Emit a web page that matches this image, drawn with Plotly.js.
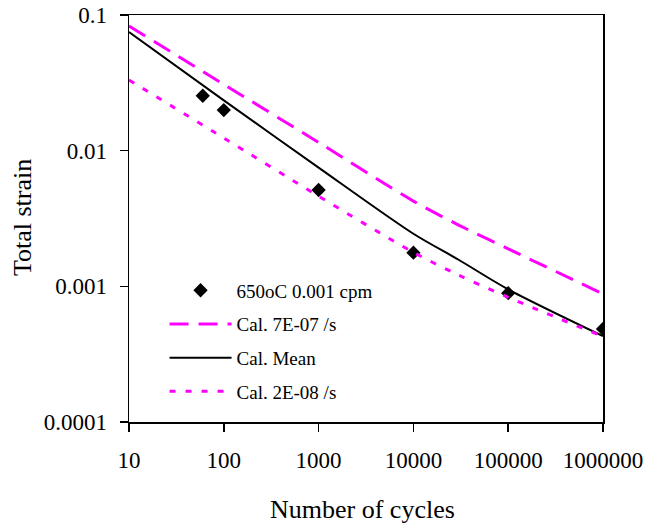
<!DOCTYPE html>
<html>
<head>
<meta charset="utf-8">
<script src="https://cdn.plot.ly/plotly-3.0.1.min.js"></script>
<style>html,body{margin:0;padding:0;background:#fff;}</style>
</head>
<body>
<div id="chart" style="width:647px;height:525px;"></div>
<script>
// Measured data (650oC, 0.001 cpm)
const expCycles = [60, 100, 1000, 10000, 100000, 1000000];
const expStrain = [0.0254, 0.0199, 0.00513, 0.00177, 0.00089, 0.000485];

// Calculated curves
const calCycles = [10, 100, 1000, 10000, 30000, 100000, 1000000];
const cal7E07 = [0.083, 0.0308, 0.0115, 0.00425, 0.00283, 0.00189, 0.00088];
const calMean = [0.075, 0.0235, 0.0075, 0.00244, 0.00157, 0.00095, 0.00043];
const cal2E08 = [0.0332, 0.0124, 0.00462, 0.00178, 0.00121, 0.00083, 0.000426];

const seriesNames = ["650oC 0.001 cpm", "Cal. 7E-07 /s", "Cal. Mean", "Cal. 2E-08 /s"];

const xTickVals = [10, 100, 1000, 10000, 100000, 1000000];
const xTickText = ["10", "100", "1000", "10000", "100000", "1000000"];
const yTickVals = [0.0001, 0.001, 0.01, 0.1];
const yTickText = ["0.0001", "0.001", "0.01", "0.1"];

const xTitle = "Number of cycles";
const yTitle = "Total strain";

const MAG = "#FF00FF";
const FONT = "Liberation Serif, Times New Roman, serif";

const traces = [
  {x: expCycles, y: expStrain, name: seriesNames[0], mode: "markers", type: "scatter",
   legendgroup: "a", marker: {symbol: "diamond", size: 11, color: "#000"}},
  {x: calCycles, y: cal7E07, name: seriesNames[1], mode: "lines", type: "scatter",
   legendgroup: "b", line: {color: MAG, width: 3, dash: "19px,10px", shape: "spline", smoothing: 0.8}},
  {x: calCycles, y: calMean, name: seriesNames[2], mode: "lines", type: "scatter",
   legendgroup: "c", line: {color: "#000", width: 2, shape: "spline", smoothing: 0.8}},
  {x: calCycles, y: cal2E08, name: seriesNames[3], mode: "lines", type: "scatter",
   legendgroup: "d", line: {color: MAG, width: 3, dash: "6px,10px", shape: "spline", smoothing: 0.8}}
];

const layout = {
  width: 647, height: 525,
  margin: {l: 129, r: 44, t: 15, b: 103},
  paper_bgcolor: "#fff", plot_bgcolor: "#fff",
  font: {family: FONT, color: "#000", size: 22},
  showlegend: true,
  legend: {
    x: 0.075, y: 0.37, xanchor: "left", yanchor: "top",
    bgcolor: "rgba(0,0,0,0)", borderwidth: 0,
    font: {family: FONT, size: 19, color: "#000"},
    traceorder: "grouped", tracegroupgap: 6, itemwidth: 62
  },
  xaxis: {
    type: "log", range: [1, 6],
    tickmode: "array", tickvals: xTickVals, ticktext: xTickText,
    ticks: "outside", ticklen: 8, tickwidth: 1.5, tickcolor: "#000",
    showline: true, linecolor: "#000", linewidth: 1.5, mirror: true,
    showgrid: false, zeroline: false,
    tickfont: {family: FONT, size: 23},
    ticklabelstandoff: 9
  },
  yaxis: {
    type: "log", range: [-4, -1],
    tickmode: "array", tickvals: yTickVals, ticktext: yTickText,
    ticks: "outside", ticklen: 8, tickwidth: 1.5, tickcolor: "#000",
    showline: true, linecolor: "#000", linewidth: 1.5, mirror: true,
    showgrid: false, zeroline: false,
    tickfont: {family: FONT, size: 23},
    ticklabelstandoff: 8
  },
  annotations: [
    {text: xTitle, xref: "paper", yref: "paper", x: 0.4926, y: -0.2138,
     xanchor: "center", yanchor: "middle", showarrow: false,
     font: {family: FONT, size: 26, color: "#000"}},
    {text: yTitle, xref: "paper", yref: "paper", x: -0.2257, y: 0.501,
     xanchor: "center", yanchor: "middle", showarrow: false, textangle: -90,
     font: {family: FONT, size: 26, color: "#000"}}
  ]
};

Plotly.newPlot("chart", traces, layout, {displayModeBar: false, staticPlot: true});
</script>
</body>
</html>
